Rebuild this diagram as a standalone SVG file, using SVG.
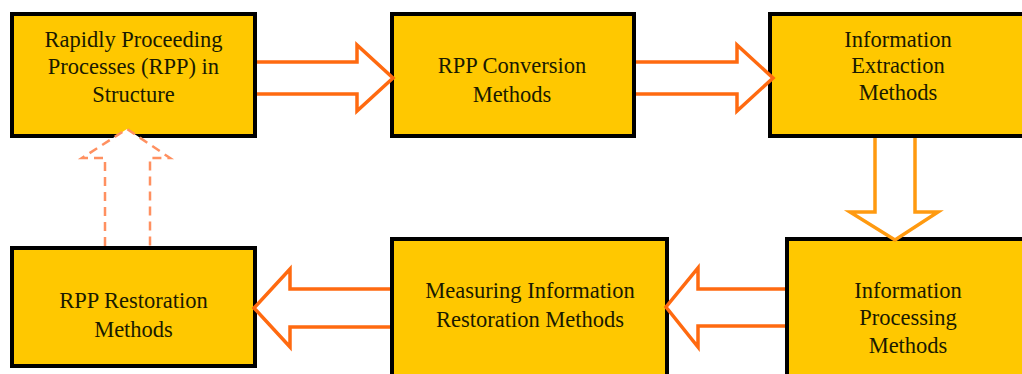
<svg xmlns="http://www.w3.org/2000/svg" width="1022" height="374" viewBox="0 0 1022 374">
<style>
.box{fill:#FFC800;stroke:#000;stroke-width:4}
.t{font-size:22.5px;fill:#1a1a00;text-anchor:middle}
.a{fill:#fff;stroke:#FF6A10;stroke-width:3.5;stroke-linejoin:miter}
.v{fill:#fff;stroke:#FF9A10;stroke-width:3.5}
.d{fill:#fff;stroke:#FF9060;stroke-width:2.5;stroke-dasharray:9,6}
</style>
<rect width="1022" height="374" fill="#fff"/>
<g font-family="Liberation Serif, DejaVu Serif, serif">
<g id="n1"><rect class="box" x="12" y="14" width="243" height="122"/>
<text class="t" x="133.5" y="47">Rapidly Proceeding</text>
<text class="t" x="133.5" y="74">Processes (RPP) in</text>
<text class="t" x="133.5" y="102">Structure</text></g>
<g id="n2"><rect class="box" x="392" y="14" width="242" height="122"/>
<text class="t" x="512" y="73">RPP Conversion</text>
<text class="t" x="512" y="102">Methods</text></g>
<g id="n3"><rect class="box" x="770" y="14" width="262" height="122"/>
<text class="t" x="898" y="47">Information</text>
<text class="t" x="898" y="73">Extraction</text>
<text class="t" x="898" y="100">Methods</text></g>
<g id="n4"><rect class="box" x="787" y="239" width="250" height="150"/>
<text class="t" x="908" y="298">Information</text>
<text class="t" x="908" y="325">Processing</text>
<text class="t" x="908" y="353">Methods</text></g>
<g id="n5"><rect class="box" x="392" y="239" width="275" height="150"/>
<text class="t" x="530" y="298">Measuring Information</text>
<text class="t" x="530" y="327">Restoration Methods</text></g>
<g id="n6"><rect class="box" x="12" y="248" width="243" height="118"/>
<text class="t" x="133.5" y="308">RPP Restoration</text>
<text class="t" x="133.5" y="337">Methods</text></g>
</g>
<g id="connectors">
<path class="a" d="M257,62 H357 V45 L393,78 L357,111 V94 H257"/>
<path class="a" d="M636,62 H737 V45 L773,78 L737,111 V94 H636"/>
<path class="v" d="M875,138 V212 H850 L895,240 L938,212 H915 V138"/>
<path class="a" d="M785,289 H698 V268 L666,307 L698,347 V326 H785"/>
<path class="a" d="M390,289 H290 V269 L254,308 L290,347 V327 H390"/>
<path class="d" d="M105,246 V158 H82 L127,129 L170,158 H150 V246"/>
</g>
</svg>
